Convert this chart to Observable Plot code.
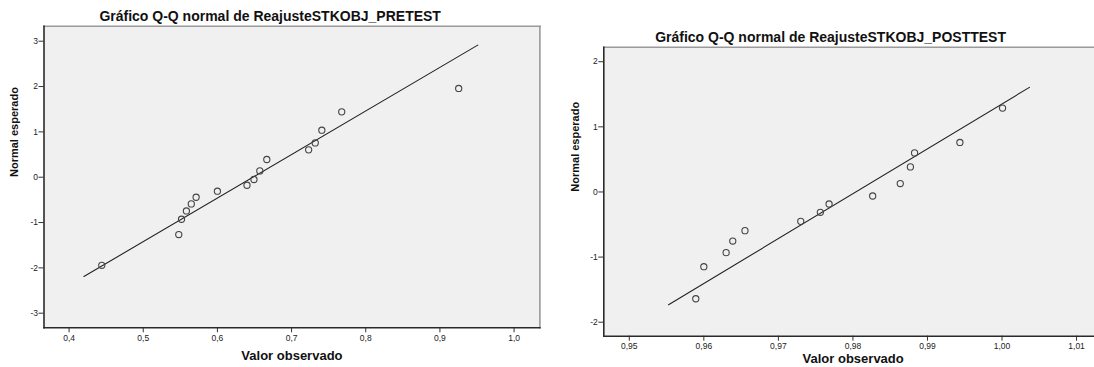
<!DOCTYPE html>
<html>
<head>
<meta charset="utf-8">
<script src="https://cdn.jsdelivr.net/npm/d3@7"></script>
<script src="https://cdn.jsdelivr.net/npm/@observablehq/plot@0.6"></script>
<style>
  html, body { margin: 0; padding: 0; background: #fff; }
  #wrap { position: relative; width: 1094px; height: 367px; overflow: hidden; }
  #left, #right { position: absolute; top: 0; }
  #left { left: 0; width: 545px; }
  #right { left: 550px; width: 560px; }
  #wrap svg { max-width: none !important; display: block; }
</style>
</head>
<body>
<div id="wrap"><div id="left"></div><div id="right"></div></div>
<script>
// ---- PRETEST data ----
const preTitle = "Gráfico Q-Q normal de ReajusteSTKOBJ_PRETEST";
const preObserved = [0.4441, 0.5479, 0.5516, 0.5582, 0.5648, 0.5713, 0.6000, 0.6399, 0.6493, 0.6572, 0.6666, 0.7230, 0.7319, 0.7408, 0.7676, 0.9253];
const preExpected = [-1.943, -1.265, -0.927, -0.744, -0.589, -0.442, -0.309, -0.177, -0.051, 0.139, 0.390, 0.603, 0.757, 1.037, 1.442, 1.958];
const preLineX = [0.420, 0.951];
const preLineY = [-2.19, 2.914];
const preXTicks = [0.4, 0.5, 0.6, 0.7, 0.8, 0.9, 1.0];
const preYTicks = [-3, -2, -1, 0, 1, 2, 3];
const preXDomain = [0.3662, 1.0348];
const preYDomain = [-3.322, 3.331];

// ---- POSTTEST data ----
const postTitle = "Gráfico Q-Q normal de ReajusteSTKOBJ_POSTTEST";
const postObserved = [0.95892, 0.96000, 0.96299, 0.96388, 0.96552, 0.97300, 0.97563, 0.97680, 0.98265, 0.98635, 0.98771, 0.98827, 0.99435, 1.00007];
const postExpected = [-1.640, -1.148, -0.932, -0.754, -0.594, -0.451, -0.312, -0.185, -0.062, 0.129, 0.385, 0.600, 0.760, 1.288];
const postLineX = [0.95527, 1.00368];
const postLineY = [-1.732, 1.606];
const postXTicks = [0.95, 0.96, 0.97, 0.98, 0.99, 1.00, 1.01];
const postYTicks = [-2, -1, 0, 1, 2];
const postXDomain = [0.94658, 1.01348];
const postYDomain = [-2.215, 2.223];

const yLabel = "Normal esperado";
const xLabel = "Valor observado";

const comma = (digits) => (d) => d3.format("." + digits + "f")(d).replace(".", ",");
const yFmt = (d) => String(d);

function qq(cfg) {
  const pts = cfg.obs.map((x, i) => ({x, y: cfg.exp[i]}));
  const line = cfg.lineX.map((x, i) => ({x, y: cfg.lineY[i]}));
  return Plot.plot({
    width: cfg.width, height: 367,
    marginLeft: cfg.ml, marginRight: cfg.mr, marginTop: cfg.mt, marginBottom: cfg.mb,
    style: {fontFamily: "'Liberation Sans', Arial, sans-serif", fontSize: "8.5px", color: "#222", background: "transparent", overflow: "visible"},
    x: {domain: cfg.xDomain, ticks: cfg.xTicks, tickFormat: comma(cfg.xDigits), label: null},
    y: {domain: cfg.yDomain, ticks: cfg.yTicks, tickFormat: yFmt, label: null},
    marks: [
      Plot.frame({fill: "#f0f0f0", stroke: null}),
      Plot.frame({anchor: "top", stroke: "#9a9a9a", strokeWidth: 1.6}),
      Plot.frame({anchor: "right", stroke: "#9a9a9a", strokeWidth: 1.6}),
      Plot.axisX({ticks: cfg.xTicks, tickFormat: comma(cfg.xDigits), tickSize: 5, tickPadding: 2, label: null, stroke: "#333"}),
      Plot.axisY({ticks: cfg.yTicks, tickFormat: yFmt, tickSize: 5, tickPadding: 1, label: null, stroke: "#333"}),
      Plot.frame({anchor: "left", stroke: "#2a2a2a", strokeWidth: 1.6}),
      Plot.frame({anchor: "bottom", stroke: "#2a2a2a", strokeWidth: 1.6}),
      Plot.line(line, {x: "x", y: "y", stroke: "#222", strokeWidth: 1.1}),
      Plot.dot(pts, {x: "x", y: "y", r: 3.1, stroke: "#444", strokeWidth: 1.1, fill: "none"}),
      Plot.text([cfg.title], {frameAnchor: "top", lineAnchor: "middle", dx: cfg.tdx, dy: cfg.tdy, fontWeight: "bold", fontSize: 14, fill: "#111"}),
      Plot.text([yLabel], {frameAnchor: "left", rotate: -90, lineAnchor: "middle", dx: cfg.ydx, fontWeight: "bold", fontSize: 11, fill: "#111"}),
      Plot.text([xLabel], {frameAnchor: "bottom", lineAnchor: "middle", dy: cfg.xdy, fontWeight: "bold", fontSize: 13, fill: "#111"})
    ]
  });
}

document.getElementById("left").append(qq({
  width: 545, ml: 43.5, mr: 5.6, mt: 25.7, mb: 39.7,
  obs: preObserved, exp: preExpected, lineX: preLineX, lineY: preLineY,
  xDomain: preXDomain, yDomain: preYDomain, xTicks: preXTicks, yTicks: preYTicks, xDigits: 1,
  title: preTitle, tdx: -21.8, tdy: -10, ydx: -29.5, xdy: 27.7
}));

document.getElementById("right").append(qq({
  width: 560, ml: 53.3, mr: 8, mt: 46.7, mb: 31.3,
  obs: postObserved, exp: postExpected, lineX: postLineX, lineY: postLineY,
  xDomain: postXDomain, yDomain: postYDomain, xTicks: postXTicks, yTicks: postYTicks, xDigits: 2,
  title: postTitle, tdx: -22.6, tdy: -9.4, ydx: -28.6, xdy: 22.5
}));
</script>
</body>
</html>
